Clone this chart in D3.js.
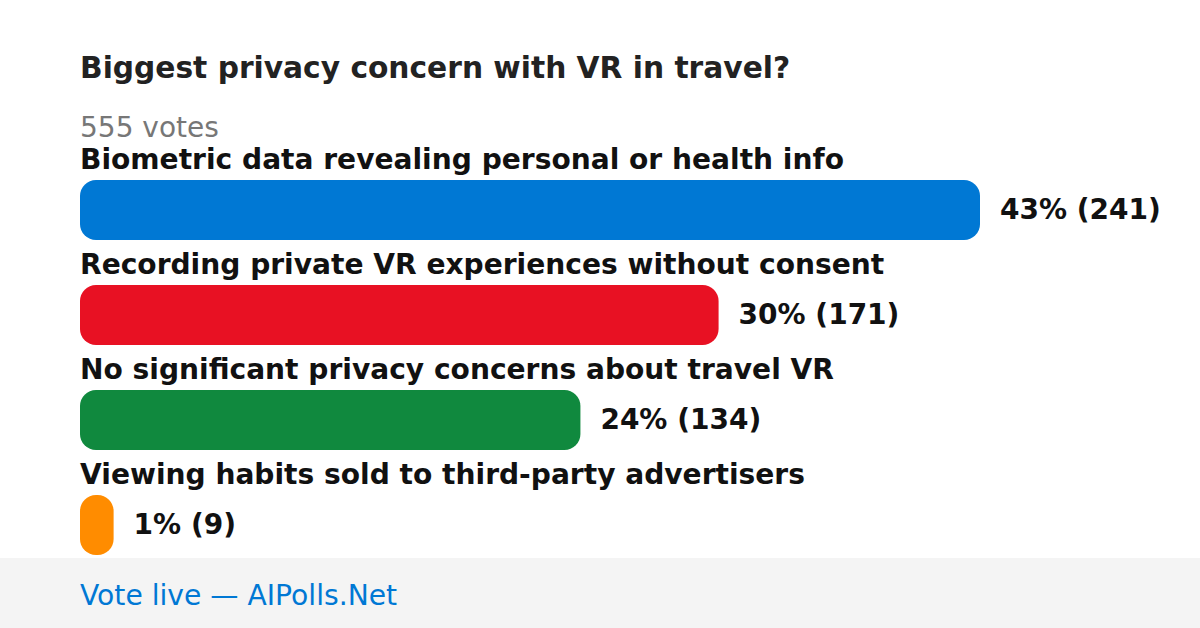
<!DOCTYPE html>
<html><head><meta charset="utf-8">
<script src="https://cdn.jsdelivr.net/npm/d3@7"></script>
<style>html,body{margin:0;padding:0;background:#fff;}svg{display:block;font-family:"DejaVu Sans",sans-serif;}</style>
</head><body>
<script>
const categories = ["Biometric data revealing personal or health info","Recording private VR experiences without consent","No significant privacy concerns about travel VR","Viewing habits sold to third-party advertisers"];
const votes = [241, 171, 134, 9];
const percents = [43, 30, 24, 1];
const colors = ["#0078d4", "#e81123", "#10893e", "#ff8c00"];
const title = "Biggest privacy concern with VR in travel?";
const totalLabel = "555 votes";
const footer = "Vote live — AIPolls.Net";

const W = 1200, H = 628;
const svg = d3.select("body").append("svg").attr("width", W).attr("height", H);
svg.append("rect").attr("width", W).attr("height", H).attr("fill", "#fff");

svg.append("text").attr("x", 80).attr("y", 78).attr("font-size", 29.7).attr("font-weight", "bold").attr("fill", "#222").text(title);
svg.append("text").attr("x", 80).attr("y", 137).attr("font-size", 28).attr("fill", "#777").text(totalLabel);

const x = d3.scaleLinear().domain([0, d3.max(votes)]).range([0, 900]);
const y = d3.scaleBand().domain(d3.range(categories.length)).range([180, 600]).paddingInner(0);

const g = svg.selectAll("g.row").data(categories).enter().append("g").attr("class", "row");
g.append("text").attr("x", 80).attr("y", (d, i) => y(i) - 11).attr("font-size", 28.1).attr("font-weight", "bold").attr("fill", "#111").text(d => d);
g.append("rect").attr("x", 80).attr("y", (d, i) => y(i)).attr("height", 60)
  .attr("width", (d, i) => x(votes[i])).attr("rx", 16).attr("ry", 16).attr("fill", (d, i) => colors[i]);
g.append("text").attr("x", (d, i) => 80 + x(votes[i]) + 20).attr("y", (d, i) => y(i) + 29)
  .attr("dominant-baseline", "central").attr("font-size", 28).attr("font-weight", "bold").attr("fill", "#111")
  .text((d, i) => `${percents[i]}% (${votes[i]})`);

svg.append("rect").attr("x", 0).attr("y", 558).attr("width", W).attr("height", 70).attr("fill", "#f4f4f4");
svg.append("text").attr("x", 80).attr("y", 605).attr("font-size", 28.2).attr("fill", "#0078d4").text(footer);
</script>
</body></html>
